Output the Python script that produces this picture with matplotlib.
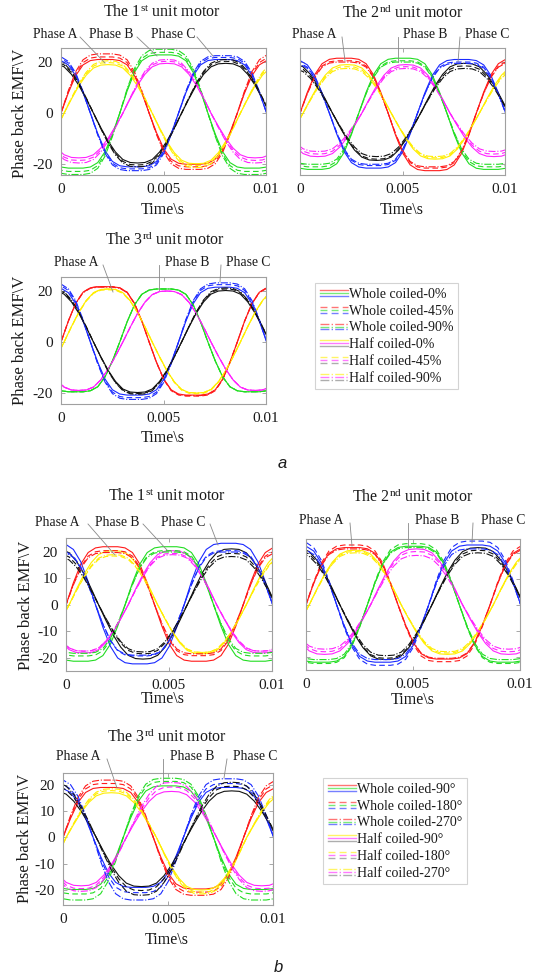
import matplotlib
matplotlib.use("Agg")
import matplotlib.pyplot as plt
from matplotlib.lines import Line2D
from matplotlib.legend_handler import HandlerBase

plt.rcParams['font.family'] = ['Liberation Serif', 'DejaVu Serif']
plt.rcParams['mathtext.fontset'] = 'custom'
plt.rcParams['mathtext.rm'] = 'Liberation Serif'
plt.rcParams['mathtext.it'] = 'Liberation Serif:italic'
plt.rcParams['axes.unicode_minus'] = False

# ---------------- data ----------------
period = 0.0086            # s, electrical period read from zero crossings
phase_names = ["Phase A", "Phase B", "Phase C"]
x_ticks = [0, 0.005, 0.01]
x_tick_labels = ["0", "0.005", "0.01"]
yticks_a = [-20, 0, 20]
yticks_b = [-20, -10, 0, 10, 20]

# normalised waveform profiles over half a period (0..180 deg, 15 deg steps)
whole_profile = [0, 0.38, 0.70, 0.90, 0.98, 1.0, 1.0, 1.0, 0.98, 0.90, 0.70, 0.38, 0]
half_profile = [0, 0.29, 0.56, 0.78, 0.93, 0.99, 1.0, 0.99, 0.93, 0.78, 0.56, 0.29, 0]
half_lag = 0.00015         # s, half-coiled curves lag slightly

legend_a = ["Whole coiled-0%", "Whole coiled-45%", "Whole coiled-90%",
            "Half coiled-0%", "Half coiled-45%", "Half coiled-90%"]
legend_b = ["Whole coiled-90\u00b0", "Whole coiled-180\u00b0", "Whole coiled-270\u00b0",
            "Half coiled-90\u00b0", "Half coiled-180\u00b0", "Half coiled-270\u00b0"]

# rows: A-whole(red), A-half(yellow), B-whole(green), B-half(magenta), C-whole(blue), C-half(black)
# cols: line style 1 (solid), 2 (dashed), 3 (dash-dot)
a1_pos = [[21.0, 22.0, 23.2], [19.0, 19.8, 20.5], [22.8, 23.8, 25.0],
          [19.5, 20.3, 21.0], [21.0, 21.8, 22.5], [19.5, 20.3, 21.0]]
a1_neg = [[20.0, 21.0, 22.0], [19.8, 20.5, 21.3], [21.5, 22.8, 24.0],
          [17.5, 18.5, 19.5], [21.0, 21.8, 22.5], [19.5, 20.3, 21.0]]
a2_pos = [[21.5, 20.5, 20.0], [19.0, 18.2, 17.5], [21.5, 20.5, 20.0],
          [19.0, 18.2, 17.5], [21.0, 20.0, 19.5], [19.5, 18.5, 17.5]]
a2_neg = [[22.5, 21.5, 21.0], [18.0, 17.5, 17.0], [22.0, 21.0, 20.0],
          [17.0, 16.0, 15.0], [21.5, 20.5, 20.0], [18.5, 18.0, 17.0]]
a3_pos = [[21.7, 21.7, 21.5], [20.8, 20.5, 20.8], [20.8, 20.8, 20.8],
          [20.0, 20.0, 20.0], [21.5, 22.5, 23.2], [20.2, 20.8, 21.2]]
a3_neg = [[20.8, 21.2, 21.0], [20.0, 20.3, 20.0], [19.5, 19.5, 19.5],
          [19.0, 19.0, 19.0], [20.8, 21.8, 22.5], [19.8, 20.2, 20.5]]
b1_pos = [[22.0, 20.5, 19.8], [20.5, 18.5, 19.0], [22.0, 20.5, 20.0],
          [20.5, 19.5, 19.0], [23.3, 20.5, 20.0], [21.2, 19.5, 18.3]]
b1_neg = [[21.3, 19.2, 18.5], [18.5, 18.0, 18.0], [21.3, 19.3, 18.3],
          [18.2, 17.5, 17.5], [22.3, 19.3, 19.0], [20.5, 18.5, 17.8]]
b2_pos = [[22.0, 23.0, 21.5], [21.0, 20.5, 20.0], [22.5, 23.5, 22.0],
          [21.5, 20.5, 19.0], [23.0, 24.5, 21.5], [22.0, 21.0, 20.0]]
b2_neg = [[20.8, 21.8, 20.5], [19.0, 18.5, 18.0], [22.0, 22.5, 21.0],
          [19.0, 18.0, 17.0], [22.0, 23.2, 21.0], [21.0, 20.5, 19.5]]
b3_pos = [[19.0, 20.5, 21.8], [17.0, 17.8, 18.5], [19.6, 21.3, 22.5],
          [17.5, 19.2, 20.9], [19.0, 20.5, 22.3], [17.7, 19.5, 21.0]]
b3_neg = [[19.6, 20.8, 22.0], [20.0, 20.8, 21.5], [19.8, 21.5, 23.8],
          [18.4, 19.5, 20.5], [19.0, 21.0, 23.8], [18.7, 20.2, 22.0]]

# ---------------- style ----------------
colors = ['#ff1a1a', '#ffee00', '#22dd22', '#ff22ff', '#1a2aff', '#111111']
styles = ['-', (0, (5, 3)), '-.']
W, H = 536, 980
fig = plt.figure(figsize=(W / 100, H / 100), dpi=100)


def fx(x):
    return x / W


def fy(y):
    return 1 - y / H


def waveform(amp_pos, amp_neg, shift, half):
    prof = half_profile if half else whole_profile
    ts, vs = [], []
    for k in range(-30, 60):
        m = k % 24
        v = amp_pos * prof[m] if m < 12 else -amp_neg * prof[m - 12]
        ts.append(shift + k * period / 24)
        vs.append(v)
    return ts, vs


panels = [
    dict(rect=(61, 48, 266, 175), pos=a1_pos, neg=a1_neg, ylim=(-24.2, 25.5), yt=yticks_a, ylab=True,
         title="The 1$^{\\mathrm{st}}$ unit motor", tpos=(162, 13), xl=(163, 210), yl=(20, 113),
         labels=[(55, 34), (111, 34), (173, 34)],
         lines=[((80, 37), (105, 63)), ((137, 37), (157, 56)), ((197, 37), (213, 56))]),
    dict(rect=(300, 48, 505, 175), pos=a2_pos, neg=a2_neg, ylim=(-24.2, 25.5), yt=yticks_a, ylab=False,
         title="The 2$^{\\mathrm{nd}}$ unit motor", tpos=(403, 13), xl=(402, 210), yl=None,
         labels=[(314, 34), (425, 34), (487, 34)],
         lines=[((342, 37), (345, 61)), ((398, 37), (398, 62)), ((460, 37), (458, 62))]),
    dict(rect=(61, 277, 266, 404), pos=a3_pos, neg=a3_neg, ylim=(-24.3, 25.5), yt=yticks_a, ylab=True,
         title="The 3$^{\\mathrm{rd}}$ unit motor", tpos=(165, 240), xl=(163, 438), yl=(20, 340),
         labels=[(76, 263), (187, 263), (248, 263)],
         lines=[((103, 265), (113, 292)), ((159, 265), (159, 290)), ((221, 265), (220, 282))]),
    dict(rect=(66, 538, 272, 671), pos=b1_pos, neg=b1_neg, ylim=(-25.0, 25.3), yt=yticks_b, ylab=True,
         title="The 1$^{\\mathrm{st}}$ unit motor", tpos=(167, 497), xl=(163, 699), yl=(26, 605),
         labels=[(57, 522), (117, 522), (183, 522)],
         lines=[((88, 524), (115, 555)), ((143, 524), (167, 550)), ((210, 524), (218, 545))]),
    dict(rect=(306, 539, 520, 670), pos=b2_pos, neg=b2_neg, ylim=(-25.0, 25.3), yt=yticks_b, ylab=False,
         title="The 2$^{\\mathrm{nd}}$ unit motor", tpos=(413, 497), xl=(413, 700), yl=None,
         labels=[(321, 520), (437, 520), (503, 520)],
         lines=[((350, 523), (352, 546)), ((408, 523), (408, 548)), ((473, 523), (472, 543))]),
    dict(rect=(63, 773, 273, 905), pos=b3_pos, neg=b3_neg, ylim=(-25.7, 24.5), yt=yticks_b, ylab=True,
         title="The 3$^{\\mathrm{rd}}$ unit motor", tpos=(167, 737), xl=(167, 940), yl=(25, 838),
         labels=[(78, 756), (192, 756), (255, 756)],
         lines=[((107, 759), (117, 788)), ((163, 759), (163, 783)), ((227, 759), (224, 778))]),
]

text_kw = dict(color='#1a1a1a')
for p in panels:
    l, t, r, b = p['rect']
    ax = fig.add_axes([fx(l), fy(b), (r - l) / W, (b - t) / H])
    for s in range(3):
        for row in [0, 2, 4, 1, 3, 5]:
            ph = row // 2
            half = row % 2 == 1
            shift = ph * period / 3 + (half_lag if half else 0)
            ts, vs = waveform(p['pos'][row][s], p['neg'][row][s], shift, half)
            ax.plot(ts, vs, color=colors[row], ls=styles[s], lw=0.8)
    ax.set_xlim(0, 0.01)
    ax.set_ylim(*p['ylim'])
    ax.set_xticks(x_ticks)
    ax.set_xticklabels(x_tick_labels)
    ax.set_yticks(p['yt'])
    if not p['ylab']:
        ax.set_yticklabels([])
    ax.tick_params(direction='in', length=3, width=0.6, colors='#999999', labelcolor='#1a1a1a',
                   labelsize=11, top=True, right=True, pad=6)
    for sp in ax.spines.values():
        sp.set_color('#a0a0a0')
        sp.set_linewidth(0.8)
    fig.text(fx(p['tpos'][0]), fy(p['tpos'][1]), p['title'], ha='center', va='center', fontsize=11.5, **text_kw)
    fig.text(fx(p['xl'][0]), fy(p['xl'][1]), "Time\\s", ha='center', va='center', fontsize=11.5, **text_kw)
    if p['yl'] is not None:
        fig.text(fx(p['yl'][0]), fy(p['yl'][1]), "Phase back EMF\\V", ha='center', va='center',
                 rotation=90, fontsize=12, **text_kw)
    for name, (lx, ly), ((x1, y1), (x2, y2)) in zip(phase_names, p['labels'], p['lines']):
        fig.text(fx(lx), fy(ly), name, ha='center', va='center', fontsize=9.8, **text_kw)
        fig.add_artist(Line2D([fx(x1), fx(x2)], [fy(y1), fy(y2)], transform=fig.transFigure,
                              color='#888888', lw=0.6))


class TriLine(HandlerBase):
    def __init__(self, cols, ls):
        super().__init__()
        self.cols = cols
        self.ls = ls

    def create_artists(self, legend, orig_handle, xdescent, ydescent, width, height, fontsize, trans):
        arts = []
        yc = height / 2 - ydescent
        for i, c in enumerate(self.cols):
            y = yc + (1 - i) * 2.0
            ln = Line2D([-xdescent, width - xdescent], [y, y], color=c, ls=self.ls, lw=1.0,
                        alpha=0.6, transform=trans)
            arts.append(ln)
        return arts


def make_legend(labels, x, y):
    handles = [Line2D([], []) for _ in labels]
    hmap = {}
    for i, h in enumerate(handles):
        cols = [colors[0], colors[2], colors[4]] if i < 3 else [colors[1], colors[3], '#777777']
        hmap[h] = TriLine(cols, styles[i % 3])
    leg = fig.legend(handles, labels, handler_map=hmap, loc='upper left',
                     bbox_to_anchor=(fx(x), fy(y)), bbox_transform=fig.transFigure,
                     fontsize=10, frameon=True, fancybox=False, edgecolor='#c8c8c8',
                     handlelength=2.0, handletextpad=0.1, labelspacing=0.27,
                     borderpad=0.35, borderaxespad=0.0)
    leg.get_frame().set_linewidth(0.8)
    for txt in leg.get_texts():
        txt.set_color('#1a1a1a')
    return leg


make_legend(legend_a, 315, 283)
make_legend(legend_b, 323, 778)

fig.text(fx(282), fy(463), 'a', ha='center', va='center', fontsize=12, style='italic',
         family='Liberation Sans', color='#1a1a1a')
fig.text(fx(278), fy(967), 'b', ha='center', va='center', fontsize=12, style='italic',
         family='Liberation Sans', color='#1a1a1a')

fig.savefig('out.png', dpi=100)
